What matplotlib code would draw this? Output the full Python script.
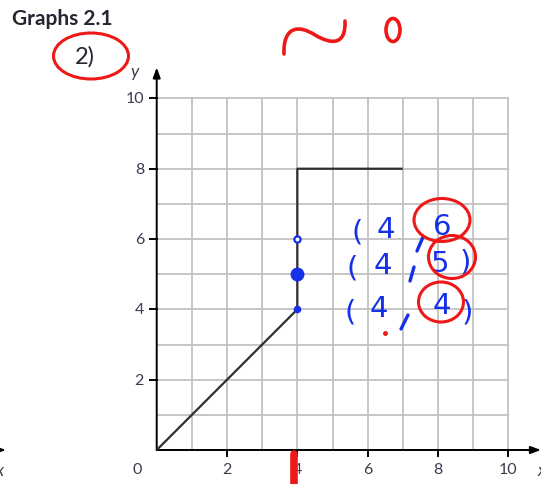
import matplotlib
matplotlib.use("Agg")
import matplotlib.pyplot as plt
from matplotlib.patches import Ellipse, PathPatch
from matplotlib.path import Path

# graph of the piecewise function
line_x = [0, 4, 4, 7]
line_y = [0, 4, 8, 8]

# points picked out on the vertical piece
pick_x = [4, 4, 4]
pick_y = [6, 5, 4]
pick_labels = ["6", "5", "4"]

x_ticks = [2, 4, 6, 8, 10]
y_ticks = [2, 4, 6, 8, 10]
grid_max = 10

UNIT = 35.16          # pixels per unit
X0, Y0 = 156.7, 451.0  # pixel position of the origin
W, H = 541, 485


def px(x, y):
    """pixel position -> data coordinates"""
    return (x - X0) / UNIT, (Y0 - y) / UNIT


fig = plt.figure(figsize=(W / 100, H / 100), dpi=100)
ax = fig.add_axes([0, 0, 1, 1])
ax.set_xlim(px(0, 0)[0], px(W, 0)[0])
ax.set_ylim(px(0, H)[1], px(0, 0)[1])
ax.axis("off")

label_col = "#3c3c50"
grid_col = "#c2c2c2"
blue = "#1530e6"
red = "#ee1818"

# grid
for i in range(1, grid_max + 1):
    ax.plot([i, i], [0, grid_max], color=grid_col, lw=1.3, zorder=1)
    ax.plot([0, grid_max], [i, i], color=grid_col, lw=1.3, zorder=1)

# axes with arrows
arrow = dict(arrowstyle="-|>,head_length=0.6,head_width=0.22", color="black",
             lw=1.4, shrinkA=0, shrinkB=0)
ax.annotate("", xy=(10.93, 0), xytext=(0, 0), arrowprops=arrow, zorder=3)
ax.annotate("", xy=(0, 10.88), xytext=(0, 0), arrowprops=arrow, zorder=3)
# arrow of the neighbouring graph at the left edge
ax.annotate("", xy=(px(6, 0)[0], 0), xytext=(px(-10, 0)[0], 0),
            arrowprops=arrow, zorder=3)

for t in x_ticks:
    ax.plot([t, t], [0, -0.17], color="black", lw=1.4, zorder=3)
    ax.text(t, -0.55, str(t), ha="center", va="center", fontsize=11.5,
            color=label_col, family="Lato")
for t in y_ticks:
    ax.plot([-0.18, 0], [t, t], color="black", lw=1.4, zorder=3)
    ax.text(-0.36, t, str(t), ha="right", va="center", fontsize=11.5,
            color=label_col, family="Lato")
ax.text(*px(137, 470), "0", ha="center", va="center", fontsize=11.5,
        color=label_col, family="Lato")
ax.text(*px(135, 72), "y", ha="center", va="center", fontsize=12.5,
        color=label_col, family="Lato", style="italic")
ax.text(*px(542, 471), "x", ha="center", va="center", fontsize=12.5,
        color=label_col, family="Lato", style="italic")
ax.text(*px(0, 471), "x", ha="center", va="center", fontsize=12.5,
        color=label_col, family="Lato", style="italic")

# the function
ax.plot(line_x, line_y, color="#2e2e2e", lw=1.6, zorder=4,
        solid_capstyle="butt")

ax.text(*px(12, 19), "Graphs 2.1", ha="left", va="center", fontsize=15,
        fontweight="bold", color="#262633", family="Lato")
ax.text(*px(85, 57), "2)", ha="center", va="center", fontsize=17,
        color="#262633", family="Lato")

# handwritten marks
ax.plot(pick_x[0], pick_y[0], "o", ms=4.5, mfc="white", mec=blue, mew=1.6,
        zorder=5)
ax.plot(pick_x[1], pick_y[1], "o", ms=9, color=blue, zorder=5)
ax.plot(pick_x[2], pick_y[2], "o", ms=4.5, color=blue, zorder=5)

hand = dict(fontsize=21, color=blue, ha="center", va="center",
            family="DejaVu Sans", zorder=6)
rows = [
    [(357, 232, "("), (386, 230, "4"), (442, 227, pick_labels[0])],
    [(352, 268, "("), (383, 266, "4"), (440, 264, pick_labels[1]),
     (465, 262, ")")],
    [(350, 313, "("), (379, 309, "4"), (442, 306, pick_labels[2]),
     (467, 312, ")")],
]
for row in rows:
    for xp, yp, ch in row:
        ax.text(*px(xp, yp), ch, **hand)

# commas drawn as short strokes
commas = [((423, 238), (417, 252)), ((414, 268), (410, 282)),
          ((408, 316), (401, 330))]
for (xa, ya), (xb, yb) in commas:
    ax.plot(*zip(px(xa, ya), px(xb, yb)), color=blue, lw=2.4,
            solid_capstyle="round", zorder=6)

# red rings and marks
rings = [((91, 57), 75, 46), ((442, 221), 56, 43), ((452, 258), 47, 43),
         ((441, 303), 45, 40)]
for (cx, cy), w, h in rings:
    ax.add_patch(Ellipse(px(cx, cy), w / UNIT, h / UNIT, fill=False,
                         ec=red, lw=2.2, zorder=7))

squiggle = Path(
    [px(284, 55), px(283, 28), px(298, 25), px(315, 36),
     px(332, 46), px(346, 46), px(345, 22)],
    [Path.MOVETO, Path.CURVE4, Path.CURVE4, Path.CURVE4,
     Path.CURVE4, Path.CURVE4, Path.CURVE4])
ax.add_patch(PathPatch(squiggle, fill=False, ec=red, lw=2.6, zorder=7,
                       capstyle="round"))
ax.add_patch(Ellipse(px(393, 31), 14 / UNIT, 23 / UNIT, fill=False,
                     ec=red, lw=2.6, zorder=7))
ax.plot(*px(385, 334), "o", ms=2.5, color=red, zorder=7)
ax.plot([px(293.5, 0)[0]] * 2, [px(0, 455)[1], px(0, 490)[1]], color=red,
        lw=5.5, solid_capstyle="round", zorder=7)

fig.savefig("out.png", dpi=100)
